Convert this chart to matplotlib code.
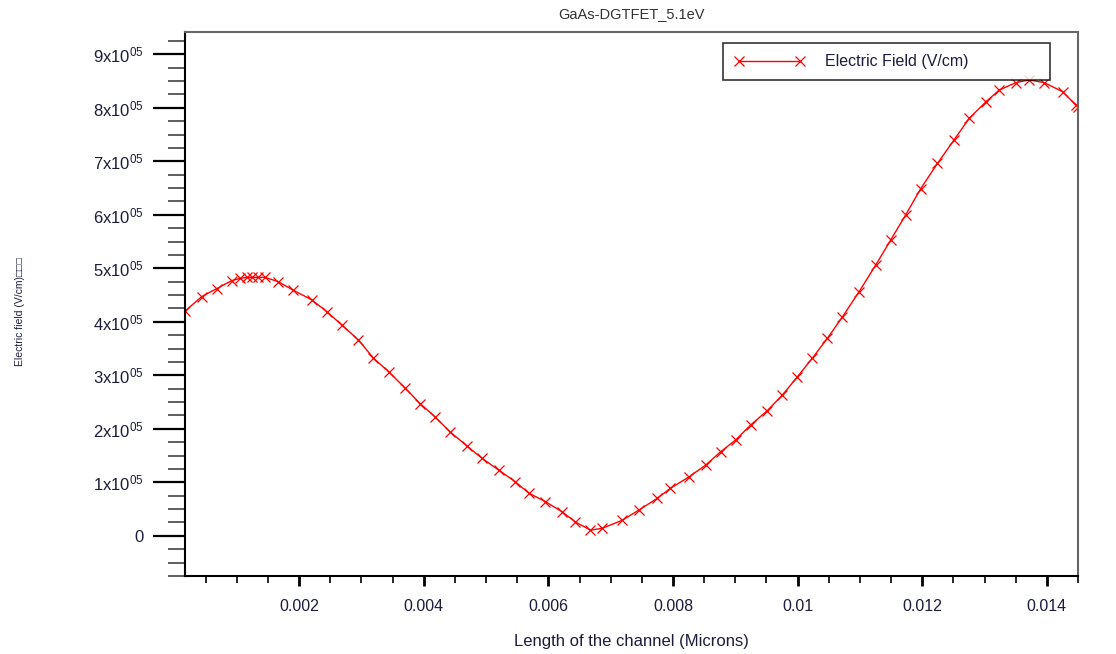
import numpy as np
import matplotlib
matplotlib.use("Agg")
import matplotlib.pyplot as plt
from matplotlib.ticker import MultipleLocator, FixedLocator

plt.rcParams['font.family'] = ['Liberation Sans', 'DejaVu Sans']
plt.rcParams['mathtext.fontset'] = 'custom'
plt.rcParams['mathtext.rm'] = 'Liberation Sans'
plt.rcParams['mathtext.default'] = 'rm'

# channel position (microns) and electric field (V/cm)
position = [0.00017, 0.000437, 0.000678, 0.000919, 0.001052, 0.00116, 0.00124,
            0.001346, 0.001454, 0.001667, 0.001908, 0.002204, 0.002445, 0.002686,
            0.002953, 0.003194, 0.003435, 0.003703, 0.003944, 0.004185, 0.004426,
            0.004694, 0.004935, 0.005202, 0.00547, 0.005684, 0.005952, 0.00622,
            0.006434, 0.006675, 0.006863, 0.007184, 0.007451, 0.007746, 0.00796,
            0.008254, 0.008522, 0.008763, 0.009004, 0.009245, 0.009513, 0.009754,
            0.009995, 0.010236, 0.010477, 0.010718, 0.010985, 0.011253, 0.011494,
            0.011735, 0.011976, 0.012244, 0.012511, 0.012752, 0.01302, 0.013234,
            0.013502, 0.013715, 0.013956, 0.014252, 0.014466, 0.0145]
field = [4.20e5, 4.47e5, 4.62e5, 4.77e5, 4.81e5, 4.83e5, 4.83e5,
         4.83e5, 4.83e5, 4.75e5, 4.59e5, 4.41e5, 4.19e5, 3.94e5,
         3.66e5, 3.32e5, 3.07e5, 2.76e5, 2.47e5, 2.22e5, 1.94e5,
         1.68e5, 1.45e5, 1.23e5, 1.01e5, 0.80e5, 0.64e5, 0.45e5,
         0.26e5, 0.107e5, 0.14e5, 0.29e5, 0.48e5, 0.70e5, 0.89e5,
         1.10e5, 1.32e5, 1.57e5, 1.79e5, 2.07e5, 2.34e5, 2.63e5,
         2.97e5, 3.32e5, 3.69e5, 4.09e5, 4.56e5, 5.06e5, 5.53e5,
         6.00e5, 6.49e5, 6.96e5, 7.40e5, 7.80e5, 8.11e5, 8.33e5,
         8.47e5, 8.52e5, 8.47e5, 8.30e5, 8.05e5, 8.02e5]

x_ticks = [0.002, 0.004, 0.006, 0.008, 0.010, 0.012, 0.014]
x_labels = ['0.002', '0.004', '0.006', '0.008', '0.01', '0.012', '0.014']
y_ticks = [0, 1e5, 2e5, 3e5, 4e5, 5e5, 6e5, 7e5, 8e5, 9e5]
y_labels = ['0'] + [r'%dx10$^{05}$' % k for k in range(1, 10)]

text_col = '#1c1c3c'

fig = plt.figure(figsize=(11.16, 6.54), dpi=100)
ax = fig.add_axes([0.1658, 0.1193, 0.966 - 0.1658, 0.9506 - 0.1193])

ax.plot(position, field, color='red', lw=1.0, marker='x', markersize=7.5,
        markeredgewidth=0.9, label='Electric Field (V/cm)')

ax.set_xlim(0.00017, 0.0145)
ax.set_ylim(-0.75e5, 9.41e5)

ax.xaxis.set_major_locator(FixedLocator(x_ticks))
ax.set_xticklabels(x_labels)
ax.xaxis.set_minor_locator(MultipleLocator(0.0005))
ax.yaxis.set_major_locator(FixedLocator(y_ticks))
ax.set_yticklabels(y_labels)
ax.yaxis.set_minor_locator(MultipleLocator(0.25e5))

ax.tick_params(axis='x', which='major', direction='out', length=7.5, width=2.0,
               labelsize=11.5, labelcolor=text_col, pad=9)
ax.tick_params(axis='x', which='minor', direction='out', length=5, width=1.2)
ax.tick_params(axis='y', which='major', direction='out', length=23, width=1.6,
               labelsize=12, labelcolor=text_col, pad=7)
ax.tick_params(axis='y', which='minor', direction='out', length=12, width=1.1,
               color='#333333')

for side in ['left', 'bottom']:
    ax.spines[side].set_color('black')
    ax.spines[side].set_linewidth(1.5)
for side in ['top', 'right']:
    ax.spines[side].set_color('#666666')
    ax.spines[side].set_linewidth(1.5)

fig.text(0.566, 0.979, 'GaAs-DGTFET_5.1eV', ha='center', va='center',
         fontsize=10.5, color='#333333')
fig.text(0.566, 0.019, 'Length of the channel (Microns)', ha='center', va='center',
         fontsize=12, color=text_col)
fig.text(0.018, 0.524, 'Electric field (V/cm)\u25a1\u25a1\u25a1', rotation=90,
         ha='center', va='center', fontsize=7.5, color=text_col,
         family=['Liberation Sans', 'DejaVu Sans'])

leg = ax.legend(loc='upper left', bbox_to_anchor=(723 / 1116, 1 - 84 / 654, 327 / 1116, 41 / 654),
                bbox_transform=fig.transFigure, mode='expand', fancybox=False,
                frameon=True, edgecolor='black', fontsize=11.5, handlelength=4.4,
                handletextpad=1.3, borderpad=0.7, numpoints=2, borderaxespad=0)
leg.get_frame().set_linewidth(1.2)
for t in leg.get_texts():
    t.set_color(text_col)

fig.savefig('out.png', dpi=100)
